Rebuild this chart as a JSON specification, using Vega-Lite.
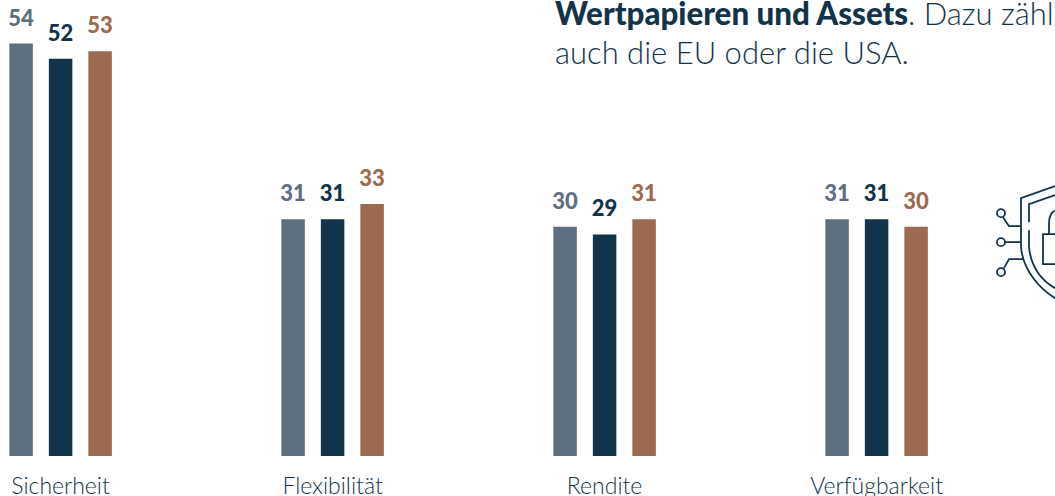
{
"$schema":"https://vega.github.io/schema/vega-lite/v6.json",
"width":1055,"height":456,
"autosize":{"type":"none"},
"padding":{"left":0,"top":0,"right":0,"bottom":40},
"background":"white",
"config":{"view":{"stroke":null}},
"resolve":{"scale":{"x":"independent"},"axis":{"x":"independent"}},
"layer":[
{"data":{"values":[
{"group":"Sicherheit","series":"A","value":54},{"group":"Sicherheit","series":"B","value":52},{"group":"Sicherheit","series":"C","value":53},
{"group":"Flexibilität","series":"A","value":31},{"group":"Flexibilität","series":"B","value":31},{"group":"Flexibilität","series":"C","value":33},
{"group":"Rendite","series":"A","value":30},{"group":"Rendite","series":"B","value":29},{"group":"Rendite","series":"C","value":31},
{"group":"Verfügbarkeit","series":"A","value":31},{"group":"Verfügbarkeit","series":"B","value":31},{"group":"Verfügbarkeit","series":"C","value":30}
]},
"encoding":{
"x":{"field":"group","type":"nominal","sort":null,"title":null,
 "scale":{"type":"band","domain":["Sicherheit","Flexibilität","Rendite","Verfügbarkeit"],"range":[-75.4,1012.6],"paddingInner":0,"paddingOuter":0},
 "axis":{"domain":false,"ticks":false,"labelAngle":0,"labelFont":"Lato","labelFontWeight":300,"labelFontSize":23,"labelColor":"#12344b","labelPadding":37,"labelBaseline":"alphabetic","grid":false}},
"xOffset":{"field":"series","type":"nominal","scale":{"type":"point","padding":0,"domain":["A","B","C"],"range":[96.5,175.5]}},
"y":{"field":"value","type":"quantitative","title":null,"scale":{"domain":[0,59.7],"nice":false,"zero":true},"axis":null},
"color":{"field":"series","type":"nominal","legend":null,"scale":{"domain":["A","B","C"],"range":["#5f6f82","#12344b","#9c6a50"]}}
},
"layer":[
{"mark":{"type":"bar","width":23.5}},
{"mark":{"type":"text","font":"Lato","fontWeight":900,"fontSize":22,"baseline":"alphabetic","dy":-18},"encoding":{"text":{"field":"value","type":"quantitative"}}}
]},
{"mark":{"type":"rule","stroke":"#12344b","strokeWidth":2},"encoding":{"y":{"datum":0,"type":"quantitative"}}},
{"data":{"values":[
{"text":"Wertpapieren und Assets","weight":"bold","left":555,"line":56.4},
{"text":". Dazu zähl","weight":"light","left":908,"line":56.4},
{"text":"auch die EU oder die USA.","weight":"light","left":555,"line":51.3}
]},
"encoding":{
"x":{"field":"left","type":"quantitative","scale":{"domain":[0,1055],"range":[0,1055]},"axis":null},
"y":{"field":"line","type":"quantitative"},
"text":{"field":"text"}
},
"layer":[
{"transform":[{"filter":"datum.weight==='bold'"}],"mark":{"type":"text","align":"left","baseline":"alphabetic","font":"Lato","fontWeight":900,"fontSize":31.3,"color":"#12344b"}},
{"transform":[{"filter":"datum.weight==='light'"}],"mark":{"type":"text","align":"left","baseline":"alphabetic","font":"Lato","fontWeight":300,"fontSize":31,"color":"#12344b"}}
]},
{"data":{"values":[{"left":1021,"line":28}]},
"mark":{"type":"point","filled":false,"size":4,"stroke":"#12344b","strokeWidth":1.8,"opacity":1,
"shape":"M34 -56 L0 -44 L0 5 C2 28 18 46 34 56 M34 -47 L8 -38 L8 -20 M8 -12 L8 5 C10 24 20 38 34 46 M-24 -29 a4 4 0 1 0 8 0 a4 4 0 1 0 -8 0 M-24 0 a4 4 0 1 0 8 0 a4 4 0 1 0 -8 0 M-24 30 a4 4 0 1 0 8 0 a4 4 0 1 0 -8 0 M-18 -25 L-12 -16 L0 -16 M-16 0 L0 0 M-17 26 L-12 17 L2 17 M34 -8 L22 -8 L22 22 L34 22 M28 -8 L28 -19 C28 -26 31 -31 34 -31"},
"encoding":{
"x":{"field":"left","type":"quantitative","scale":{"domain":[0,1055],"range":[0,1055]},"axis":null},
"y":{"field":"line","type":"quantitative"}
}}
]
}
